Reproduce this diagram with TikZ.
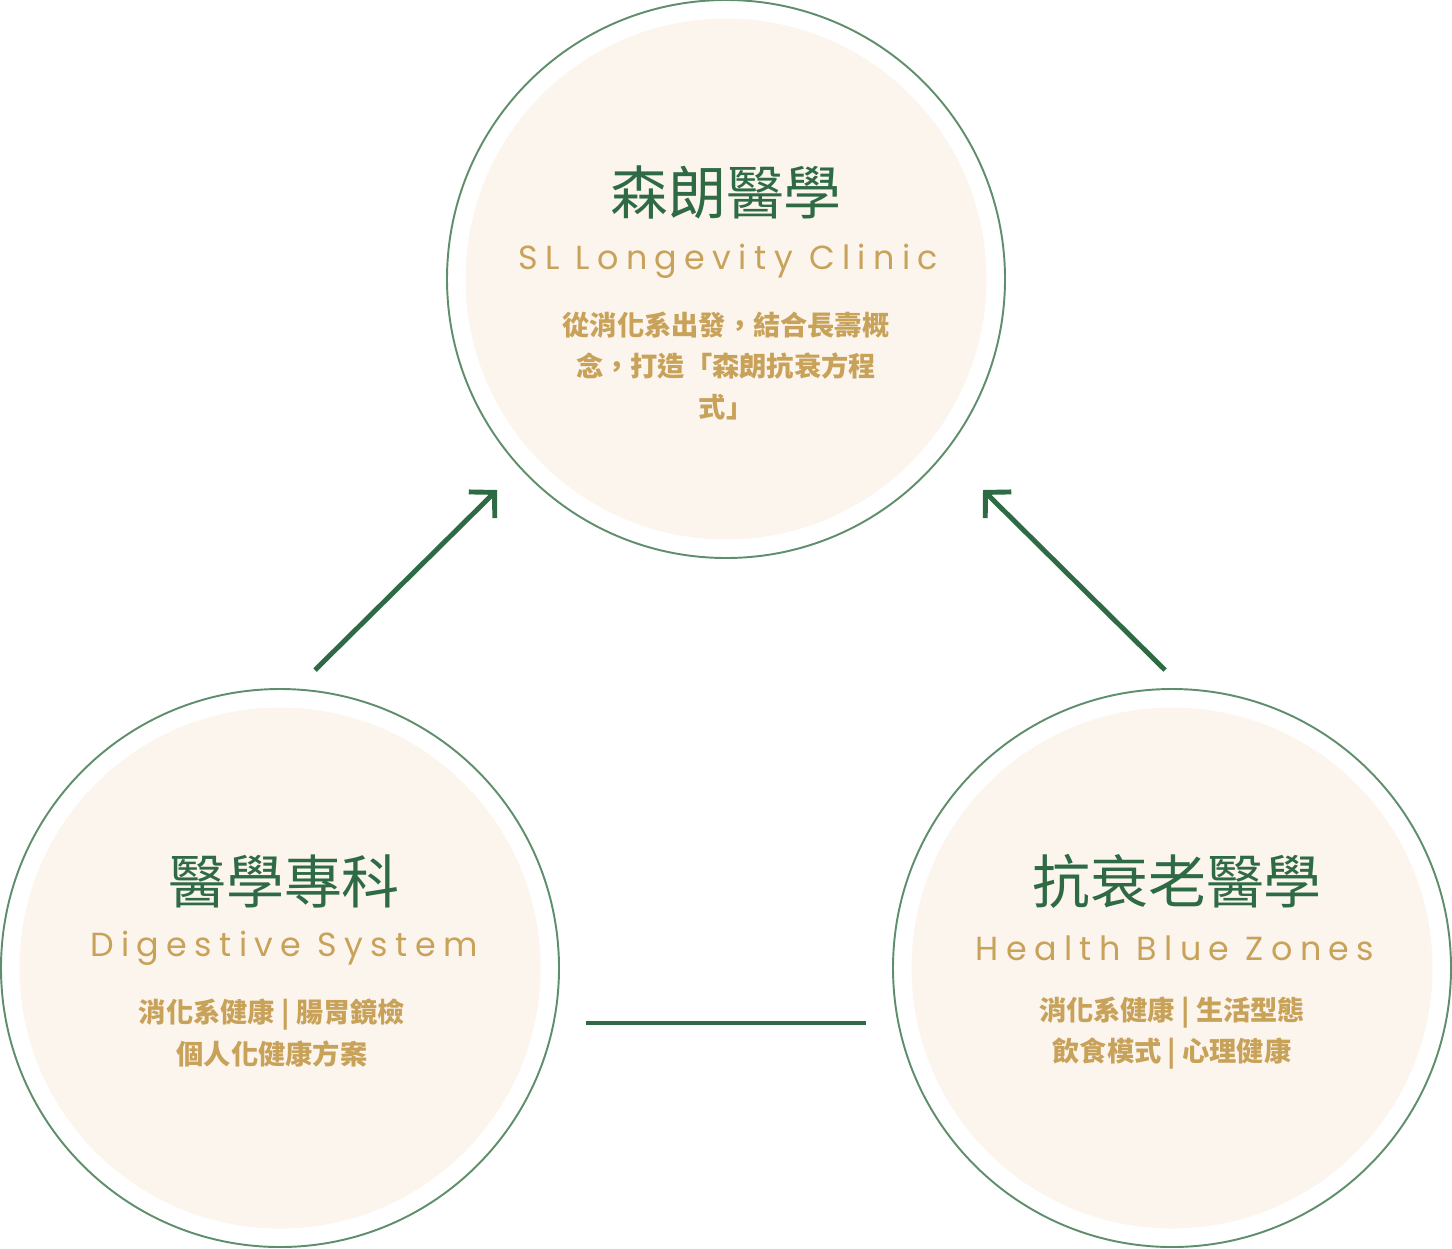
\documentclass[tikz,border=0pt]{standalone}
\usepackage{fontspec}
\setmainfont{Noto Sans CJK TC}
\newfontfamily\latinfont[LetterSpace=22]{Poppins}
\newfontfamily\boldcjk[BoldFont={Noto Sans CJK TC Bold}]{Noto Sans CJK TC}
\usetikzlibrary{arrows.meta}
\definecolor{slgreen}{HTML}{2E6B45}
\definecolor{ringgreen}{HTML}{5F8E6C}
\definecolor{creamfill}{HTML}{FBF5EE}
\definecolor{slgold}{HTML}{C9A25A}
\tikzset{
  ring/.style={circle, draw=ringgreen, line width=1.1pt, minimum size=558*0.02cm, inner sep=0pt},
  disc/.style={circle, fill=creamfill, minimum size=521*0.02cm, inner sep=0pt},
  title/.style={text=slgreen, font=\fontsize{33}{36}\selectfont},
  subtitle/.style={text=slgold, font=\latinfont\fontsize{19}{22}\selectfont},
  body/.style={text=slgold, align=center, font=\fontsize{15.5}{23.5}\selectfont\bfseries},
  link/.style={slgreen, line width=2.8pt},
}
\begin{document}
\begin{tikzpicture}[x=0.02cm, y=-0.02cm, >={Straight Barb[length=3.6mm,width=7.4mm]}]
  \useasboundingbox (0,0) rectangle (1452,1248);
  % three circles
  \node[disc] (top) at (726,279) {};
  \node[ring] (topring) at (726,279) {};
  \node[disc] (left) at (280,968) {};
  \node[ring] (leftring) at (280,968) {};
  \node[disc] (right) at (1172,968) {};
  \node[ring] (rightring) at (1172,968) {};
  % top texts
  \node[title] (toptitle) at (726,192) {森朗醫學};
  \node[subtitle] (topsub) at (728,261) {SL Longevity Clinic};
  \node[body] (topbody) at (726,366) {從消化系出發，結合長壽概\\念，打造「森朗抗衰方程\\式」};
  % left texts
  \node[title] (lefttitle) at (284,881) {醫學專科};
  \node[subtitle] (leftsub) at (284,948) {Digestive System};
  \node[body] (leftbody) at (272,1033) {消化系健康 | 腸胃鏡檢\\個人化健康方案};
  % right texts
  \node[title] (righttitle) at (1177,881) {抗衰老醫學};
  \node[subtitle] (rightsub) at (1175,948) {Health Blue Zones};
  \node[body] (rightbody) at (1172,1033) {消化系健康 | 生活型態\\飲食模式 | 心理健康};
  % connectors
  \coordinate (la) at (315,670);
  \coordinate (lb) at (497,490);
  \coordinate (ra) at (1165,670);
  \coordinate (rb) at (983,490);
  \coordinate (ba) at (586,1023);
  \coordinate (bb) at (866,1023);
  \draw[link,->] (la) -- (lb);
  \draw[link,->] (ra) -- (rb);
  \draw[link] (ba) -- (bb);
\end{tikzpicture}
\end{document}
